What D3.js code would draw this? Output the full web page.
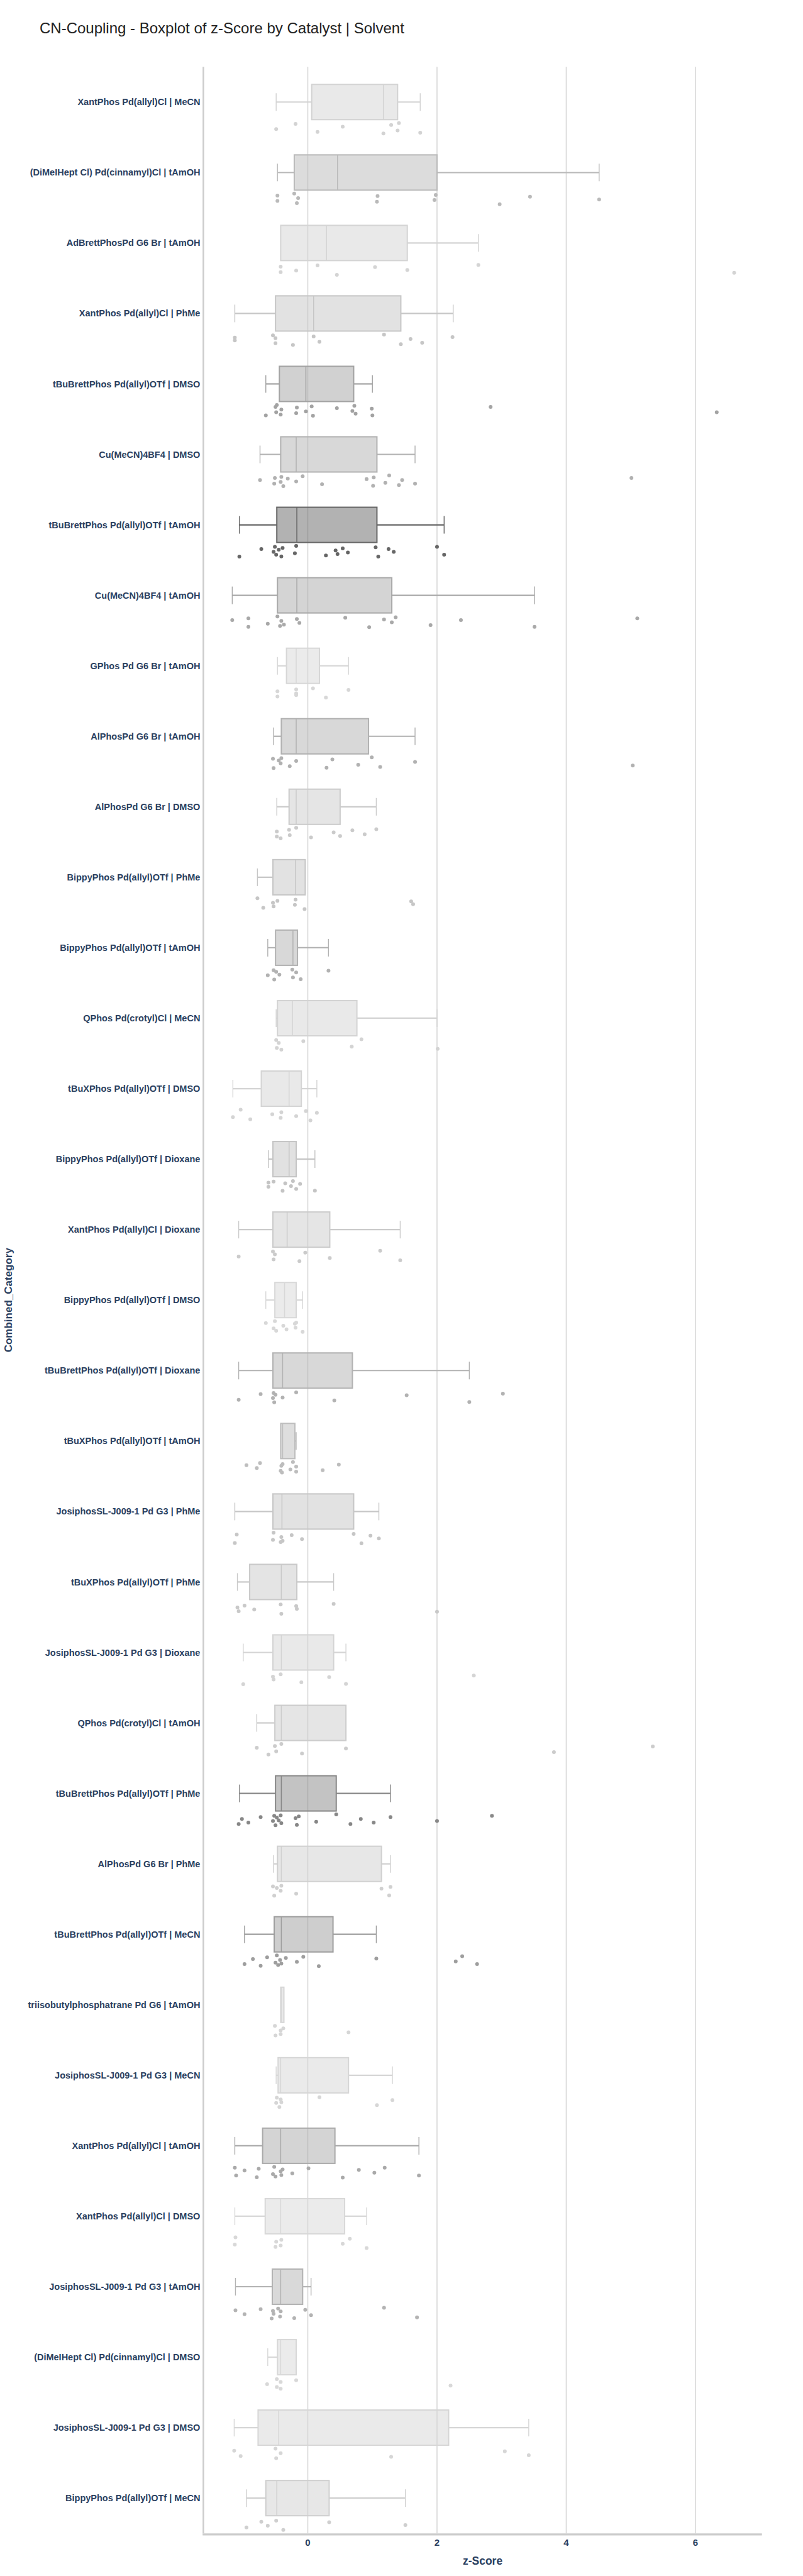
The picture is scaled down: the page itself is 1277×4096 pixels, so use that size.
<!DOCTYPE html>
<html>
<head>
<meta charset="utf-8">
<script src="https://cdn.jsdelivr.net/npm/d3@7/dist/d3.min.js"></script>
<style>
  html, body { margin: 0; padding: 0; background: #fff; }
  svg { display: block; }
</style>
</head>
<body>
<svg id="chart" width="1277" height="4096"></svg>
<script>
// ---------------- DATA ----------------
const categories = [
  "XantPhos Pd(allyl)Cl | MeCN",
  "(DiMeIHept Cl) Pd(cinnamyl)Cl | tAmOH",
  "AdBrettPhosPd G6 Br | tAmOH",
  "XantPhos Pd(allyl)Cl | PhMe",
  "tBuBrettPhos Pd(allyl)OTf | DMSO",
  "Cu(MeCN)4BF4 | DMSO",
  "tBuBrettPhos Pd(allyl)OTf | tAmOH",
  "Cu(MeCN)4BF4 | tAmOH",
  "GPhos Pd G6 Br | tAmOH",
  "AlPhosPd G6 Br | tAmOH",
  "AlPhosPd G6 Br | DMSO",
  "BippyPhos Pd(allyl)OTf | PhMe",
  "BippyPhos Pd(allyl)OTf | tAmOH",
  "QPhos Pd(crotyl)Cl | MeCN",
  "tBuXPhos Pd(allyl)OTf | DMSO",
  "BippyPhos Pd(allyl)OTf | Dioxane",
  "XantPhos Pd(allyl)Cl | Dioxane",
  "BippyPhos Pd(allyl)OTf | DMSO",
  "tBuBrettPhos Pd(allyl)OTf | Dioxane",
  "tBuXPhos Pd(allyl)OTf | tAmOH",
  "JosiphosSL-J009-1 Pd G3 | PhMe",
  "tBuXPhos Pd(allyl)OTf | PhMe",
  "JosiphosSL-J009-1 Pd G3 | Dioxane",
  "QPhos Pd(crotyl)Cl | tAmOH",
  "tBuBrettPhos Pd(allyl)OTf | PhMe",
  "AlPhosPd G6 Br | PhMe",
  "tBuBrettPhos Pd(allyl)OTf | MeCN",
  "triisobutylphosphatrane Pd G6 | tAmOH",
  "JosiphosSL-J009-1 Pd G3 | MeCN",
  "XantPhos Pd(allyl)Cl | tAmOH",
  "XantPhos Pd(allyl)Cl | DMSO",
  "JosiphosSL-J009-1 Pd G3 | tAmOH",
  "(DiMeIHept Cl) Pd(cinnamyl)Cl | DMSO",
  "JosiphosSL-J009-1 Pd G3 | DMSO",
  "BippyPhos Pd(allyl)OTf | MeCN"
];

const lowerFence = [-0.49,-0.47,-0.42,-1.13,-0.65,-0.74,-1.06,-1.17,-0.47,-0.53,-0.48,-0.78,-0.62,-0.49,-1.16,-0.61,-1.07,-0.65,-1.07,-0.42,-1.13,-1.09,-1.00,-0.79,-1.06,-0.53,-0.98,-0.42,-0.49,-1.13,-1.13,-1.12,-0.62,-1.14,-0.95];
const q1Values   = [ 0.06,-0.21,-0.42,-0.50,-0.44,-0.42,-0.48,-0.47,-0.33,-0.41,-0.29,-0.54,-0.50,-0.47,-0.72,-0.54,-0.54,-0.51,-0.54,-0.42,-0.54,-0.90,-0.54,-0.51,-0.50,-0.47,-0.52,-0.42,-0.46,-0.70,-0.66,-0.55,-0.47,-0.77,-0.65];
const medianValues=[ 1.17, 0.46, 0.29, 0.09,-0.03,-0.18,-0.17,-0.17,-0.18,-0.18,-0.18,-0.19,-0.23,-0.24,-0.29,-0.29,-0.32,-0.36,-0.39,-0.39,-0.40,-0.41,-0.41,-0.41,-0.41,-0.41,-0.41,-0.41,-0.42,-0.42,-0.42,-0.42,-0.42,-0.45,-0.48];
const q3Values   = [ 1.39, 2.00, 1.54, 1.44, 0.71, 1.07, 1.07, 1.30, 0.18, 0.94, 0.50,-0.04,-0.16, 0.76,-0.10,-0.18, 0.34,-0.18, 0.69,-0.20, 0.71,-0.17, 0.40, 0.59, 0.44, 1.14, 0.39,-0.37, 0.63, 0.42, 0.57,-0.08,-0.18, 2.18, 0.33];
const upperFence = [ 1.74, 4.51, 2.64, 2.25, 1.00, 1.66, 2.11, 3.51, 0.63, 1.66, 1.06,-0.04, 0.32, 2.00, 0.14, 0.11, 1.43,-0.08, 2.50,-0.18, 1.10, 0.40, 0.59, 0.59, 1.28, 1.28, 1.06,-0.37, 1.31, 1.72, 0.91, 0.05,-0.18, 3.42, 1.51];

const pointValues = [
  [-0.49,-0.19,0.15,0.54,1.17,1.29,1.39,1.41,1.74],
  [-0.47,-0.47,-0.21,-0.17,-0.15,1.07,1.08,1.96,1.98,2.97,3.44,4.51],
  [-0.42,-0.42,-0.18,0.15,0.45,1.04,1.54,2.64,6.60],
  [-1.13,-1.13,-0.54,-0.50,-0.50,-0.23,0.09,0.18,1.18,1.44,1.59,1.77,2.24],
  [-0.65,-0.50,-0.49,-0.48,-0.42,-0.41,-0.18,-0.17,-0.03,0.06,0.08,0.45,0.69,0.72,0.74,0.99,1.00,2.83,6.33],
  [-0.74,-0.52,-0.51,-0.42,-0.41,-0.38,-0.31,-0.18,-0.08,0.22,0.91,1.01,1.02,1.20,1.26,1.41,1.46,1.66,5.01],
  [-1.06,-0.72,-0.53,-0.51,-0.49,-0.45,-0.41,-0.39,-0.20,-0.18,0.28,0.43,0.46,0.54,0.62,1.05,1.09,1.25,1.33,2.00,2.11],
  [-1.17,-0.92,-0.92,-0.62,-0.47,-0.43,-0.41,-0.37,-0.17,-0.13,0.58,0.95,1.18,1.30,1.36,1.90,2.37,3.51,5.10],
  [-0.47,-0.47,-0.18,-0.18,-0.18,0.08,0.28,0.63],
  [-0.54,-0.53,-0.45,-0.42,-0.41,-0.28,-0.18,0.29,0.38,0.78,0.99,1.12,1.66,5.03],
  [-0.48,-0.48,-0.42,-0.29,-0.28,-0.18,0.05,0.40,0.50,0.69,0.88,1.06],
  [-0.78,-0.69,-0.54,-0.53,-0.47,-0.20,-0.19,-0.05,1.60,1.63],
  [-0.62,-0.53,-0.52,-0.49,-0.44,-0.24,-0.23,-0.18,-0.11,0.32],
  [-0.49,-0.48,-0.45,-0.41,-0.07,0.68,0.83,2.01],
  [-1.16,-1.04,-0.89,-0.55,-0.42,-0.41,-0.18,-0.03,0.04,0.14],
  [-0.61,-0.61,-0.53,-0.39,-0.35,-0.26,-0.23,-0.18,-0.12,0.11],
  [-1.07,-0.54,-0.53,-0.51,-0.13,-0.04,0.34,1.12,1.43],
  [-0.65,-0.53,-0.51,-0.49,-0.38,-0.33,-0.20,-0.19,-0.18,-0.08],
  [-1.07,-0.73,-0.54,-0.53,-0.52,-0.50,-0.39,-0.18,0.41,1.53,2.50,3.02],
  [-0.95,-0.79,-0.74,-0.42,-0.41,-0.40,-0.39,-0.27,-0.23,-0.18,-0.18,0.23,0.48],
  [-1.13,-1.10,-0.54,-0.53,-0.42,-0.41,-0.39,-0.25,-0.09,0.71,0.83,0.97,1.10],
  [-1.09,-1.07,-0.98,-0.83,-0.42,-0.41,-0.18,-0.17,0.40,2.00],
  [-1.00,-0.54,-0.53,-0.42,-0.10,0.33,0.59,2.57],
  [-0.79,-0.61,-0.51,-0.49,-0.41,-0.09,0.59,3.81,5.34],
  [-1.07,-1.02,-0.92,-0.73,-0.54,-0.52,-0.50,-0.48,-0.45,-0.42,-0.41,-0.19,-0.17,-0.14,0.13,0.44,0.66,0.82,1.02,1.28,2.00,2.85],
  [-0.54,-0.52,-0.48,-0.42,-0.41,-0.18,1.14,1.26,1.28],
  [-0.98,-0.85,-0.73,-0.63,-0.50,-0.48,-0.46,-0.43,-0.41,-0.34,-0.17,-0.07,0.17,1.06,2.29,2.39,2.62],
  [-0.51,-0.50,-0.42,-0.42,-0.38,0.63],
  [-0.49,-0.48,-0.44,-0.42,-0.41,0.18,1.07,1.31],
  [-1.13,-1.11,-0.98,-0.79,-0.76,-0.54,-0.52,-0.50,-0.42,-0.41,-0.39,-0.24,0.01,0.54,0.79,1.03,1.19,1.72],
  [-1.13,-1.12,-0.50,-0.49,-0.42,-0.41,0.54,0.65,0.91],
  [-1.12,-0.98,-0.73,-0.56,-0.54,-0.53,-0.46,-0.43,-0.42,-0.21,-0.04,0.05,1.18,1.69],
  [-0.63,-0.48,-0.48,-0.42,-0.42,-0.18,2.21],
  [-1.14,-1.04,-0.50,-0.49,-0.42,1.29,3.05,3.42],
  [-0.95,-0.72,-0.62,-0.49,-0.38,0.33,1.51]
];

const xTickValues = [0, 2, 4, 6];

// ---------------- STYLE ----------------
const boxColors = [
  "#d3d3d3","#bababa","#d4d4d4","#c6c6c6","#a3a3a3","#b1b1b1","#666666","#a9a9a9","#d7d7d7","#b1b1b1",
  "#cbcbcb","#c6c6c6","#b2b2b2","#d3d3d3","#d4d4d4","#c4c4c4","#cbcbcb","#d8d8d8","#b2b2b2","#bdbdbd",
  "#c6c6c6","#c9c9c9","#d4d4d4","#cccccc","#878787","#d0d0d0","#9e9e9e","#d6d6d6","#d6d6d6","#aaaaaa",
  "#d8d8d8","#b3b3b3","#d8d8d8","#d6d6d6","#cfcfcf"
];
const jitterPattern = [0.1,-0.8,0.6,-0.3,0.9,-0.6,0.35,-0.95,0.75,-0.15,0.5,-0.5,0.2,-0.7,0.95,-0.4];

const navy = "#2a3f5f";
const labelFont = "'Liberation Sans', Arial, Helvetica, sans-serif";

const svg = d3.select("#chart");
const plot = { left: 323.4, right: 1211.7, top: 106.2, bottom: 4028.2 };

const x = d3.scaleLinear().domain([-1.617, 7.03]).range([plot.left, plot.right]);
const y = d3.scaleBand().domain(categories).range([plot.top, plot.bottom]).padding(0);
const bw = y.bandwidth();
const boxH = bw * 0.5;
const capH = bw * 0.25;

// Title
svg.append("text")
  .attr("x", 63).attr("y", 53)
  .attr("font-family", labelFont)
  .attr("font-size", 24)
  .attr("fill", "#222")
  .text("CN-Coupling - Boxplot of z-Score by Catalyst | Solvent");

// Gridlines
svg.append("g").selectAll("line").data(xTickValues).join("line")
  .attr("x1", d => x(d)).attr("x2", d => x(d))
  .attr("y1", plot.top).attr("y2", plot.bottom)
  .attr("stroke", "#d5d5d5").attr("stroke-width", 1.5);

// Left axis line
svg.append("line")
  .attr("x1", plot.left).attr("x2", plot.left)
  .attr("y1", plot.top).attr("y2", plot.bottom)
  .attr("stroke", "#cccccc").attr("stroke-width", 2.5);

// Boxes
const groups = svg.append("g").selectAll("g").data(categories).join("g")
  .attr("transform", d => `translate(0,${y(d) + bw / 2})`);

groups.each(function(cat, i) {
  const g = d3.select(this);
  const c = boxColors[i];
  const lo = lowerFence[i], a = q1Values[i], m = medianValues[i], b = q3Values[i], hi = upperFence[i];
  // whiskers
  if (lo < a - 0.005) {
    g.append("line").attr("x1", x(lo)).attr("x2", x(a)).attr("y1", 0).attr("y2", 0)
      .attr("stroke", c).attr("stroke-width", 2.2);
    g.append("line").attr("x1", x(lo)).attr("x2", x(lo)).attr("y1", -capH / 2).attr("y2", capH / 2)
      .attr("stroke", c).attr("stroke-width", 1.4);
  }
  if (hi > b + 0.005) {
    g.append("line").attr("x1", x(b)).attr("x2", x(hi)).attr("y1", 0).attr("y2", 0)
      .attr("stroke", c).attr("stroke-width", 2.2);
    g.append("line").attr("x1", x(hi)).attr("x2", x(hi)).attr("y1", -capH / 2).attr("y2", capH / 2)
      .attr("stroke", c).attr("stroke-width", 1.4);
  }
  // box
  g.append("rect")
    .attr("x", x(a)).attr("y", -boxH / 2)
    .attr("width", Math.max(1, x(b) - x(a))).attr("height", boxH)
    .attr("fill", c).attr("fill-opacity", 0.5)
    .attr("stroke", c).attr("stroke-width", 2);
  // median
  g.append("line").attr("x1", x(m)).attr("x2", x(m)).attr("y1", -boxH / 2).attr("y2", boxH / 2)
    .attr("stroke", c).attr("stroke-width", 1.5);
  // points
  g.append("g").selectAll("circle").data(pointValues[i]).join("circle")
    .attr("cx", d => x(d))
    .attr("cy", (d, j) => bw * 0.375 + jitterPattern[(j + i * 5) % jitterPattern.length] * bw * 0.08)
    .attr("r", 3)
    .attr("fill", c);
});

// Category labels
svg.append("g").selectAll("text").data(categories).join("text")
  .attr("x", plot.left - 5)
  .attr("y", d => y(d) + bw / 2)
  .attr("dy", "0.35em")
  .attr("text-anchor", "end")
  .attr("font-family", labelFont)
  .attr("font-weight", "bold")
  .attr("font-size", 14.5)
  .attr("fill", navy)
  .text(d => d);

// Bottom axis line
svg.append("line")
  .attr("x1", plot.left - 1.2).attr("x2", plot.right)
  .attr("y1", plot.bottom + 1.6).attr("y2", plot.bottom + 1.6)
  .attr("stroke", "#cccccc").attr("stroke-width", 3.2);

// X tick labels
svg.append("g").selectAll("text").data(xTickValues).join("text")
  .attr("x", d => x(d)).attr("y", 4048)
  .attr("text-anchor", "middle")
  .attr("font-family", labelFont)
  .attr("font-weight", "bold")
  .attr("font-size", 15)
  .attr("fill", navy)
  .text(d => d);

// Axis titles
svg.append("text")
  .attr("x", (plot.left + plot.right) / 2).attr("y", 4078)
  .attr("text-anchor", "middle")
  .attr("font-family", labelFont)
  .attr("font-weight", "bold")
  .attr("font-size", 17.5)
  .attr("fill", navy)
  .text("z-Score");

svg.append("text")
  .attr("transform", `translate(19,${(plot.top + plot.bottom) / 2}) rotate(-90)`)
  .attr("text-anchor", "middle")
  .attr("font-family", labelFont)
  .attr("font-weight", "bold")
  .attr("font-size", 17)
  .attr("fill", navy)
  .text("Combined_Category");
</script>
</body>
</html>
